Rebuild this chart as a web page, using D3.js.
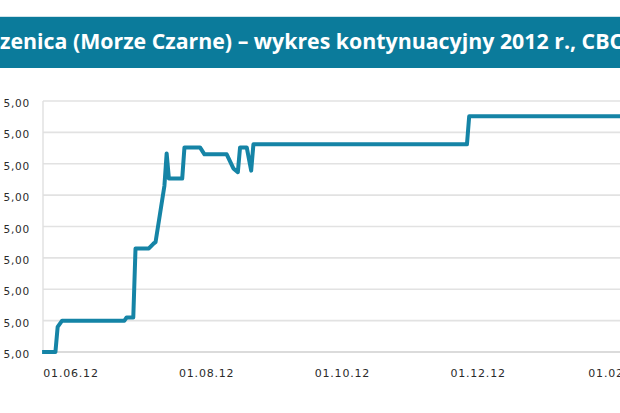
<!DOCTYPE html>
<html><head><meta charset="utf-8">
<script src="https://cdn.jsdelivr.net/npm/d3@7"></script>
<style>html,body{margin:0;padding:0;background:#fff;overflow:hidden}</style>
</head><body>
<svg id="c" width="620" height="413"></svg>
<script>
const titleText = "zenica (Morze Czarne) – wykres kontynuacyjny 2012 r., CBOT";
const dates = ["2012-05-19","2012-05-25","2012-05-26","2012-05-28","2012-06-25","2012-06-26","2012-06-29","2012-06-30","2012-07-06","2012-07-08","2012-07-09","2012-07-11","2012-07-13","2012-07-14","2012-07-15","2012-07-21","2012-07-22","2012-07-29","2012-07-31","2012-08-10","2012-08-13","2012-08-15","2012-08-16","2012-08-19","2012-08-21","2012-08-22","2012-11-26","2012-11-27","2013-02-04"];
const values = [245,245,253,255,255,256,256,278,278,279.5,280,289,298,308.3,300.3,300.3,310.2,310.2,308,308,303.5,302.3,310.2,310.2,302.8,311.2,311.2,320.1,320.1];
const yTicks = [245,255,265,275,285,295,305,315,325];
const yTickLabels = ["5,00","5,00","5,00","5,00","5,00","5,00","5,00","5,00","5,00"];
const xTicks = ["2012-06-01","2012-08-01","2012-10-01","2012-12-01","2013-02-01"];
const xTickLabels = ["01.06.12","01.08.12","01.10.12","01.12.12","01.02.13"];

const svg = d3.select("#c");
const parse = d3.timeParse("%Y-%m-%d");
const data = dates.map((d,i)=>({date:parse(d), v:values[i]}));

const x = d3.scaleTime().domain([parse(xTicks[0]), parse(xTicks[4])]).range([71, 616]);
const y = d3.scaleLinear().domain([yTicks[0], yTicks[yTicks.length-1]]).range([352, 101]);
const left = 43, right = 640;

// title bar
svg.append("rect").attr("x",0).attr("y",17).attr("width",620).attr("height",51).attr("fill","#0b7b9b");
svg.append("line").attr("x1",0).attr("x2",620).attr("y1",16.5).attr("y2",16.5).attr("stroke","#cfe3ea").attr("stroke-width",1);
const t = svg.append("text").attr("fill","#fff").attr("font-family","'Open Sans', 'DejaVu Sans', sans-serif")
  .attr("font-weight","bold").attr("font-size",21).text(titleText);
const target = 610; // end of "CB"
const sub = t.node().getSubStringLength(0, titleText.indexOf("CBOT")+2);
const sx = target / sub;
t.attr("transform", `translate(0,49) scale(${sx},1)`);

// gridlines
const g = svg.append("g");
g.selectAll("line.grid").data(yTicks.slice(1)).enter().append("line")
  .attr("x1",left).attr("x2",right).attr("y1",d=>y(d)).attr("y2",d=>y(d))
  .attr("stroke","#e2e2e2").attr("stroke-width",1.6);
// bottom axis
g.append("line").attr("x1",left).attr("x2",right).attr("y1",y(yTicks[0])).attr("y2",y(yTicks[0]))
  .attr("stroke","#cfcfcf").attr("stroke-width",1.6);
// left axis
g.append("line").attr("x1",left).attr("x2",left).attr("y1",y(yTicks[yTicks.length-1])).attr("y2",y(yTicks[0]))
  .attr("stroke","#e0e0e0").attr("stroke-width",1.4);

// y labels
g.selectAll("text.yl").data(yTicks).enter().append("text")
  .attr("x",30).attr("y",d=>y(d)+6).attr("text-anchor","end")
  .attr("font-family","'DejaVu Sans', sans-serif").attr("font-size",10.5).attr("letter-spacing",0.8)
  .attr("fill","#2a2a2a").text((d,i)=>yTickLabels[i]);

// x labels
g.selectAll("text.xl").data(xTicks).enter().append("text")
  .attr("x",d=>x(parse(d))).attr("y",377).attr("text-anchor","middle")
  .attr("font-family","'DejaVu Sans', sans-serif").attr("font-size",11).attr("letter-spacing",0.8)
  .attr("fill","#2a2a2a").text((d,i)=>xTickLabels[i]);

// line
const line = d3.line().x(d=>x(d.date)).y(d=>y(d.v));
svg.append("path").datum(data).attr("d",line).attr("fill","none")
  .attr("stroke","#1584a6").attr("stroke-width",4).attr("stroke-linejoin","round").attr("stroke-linecap","butt");
</script>
</body></html>
